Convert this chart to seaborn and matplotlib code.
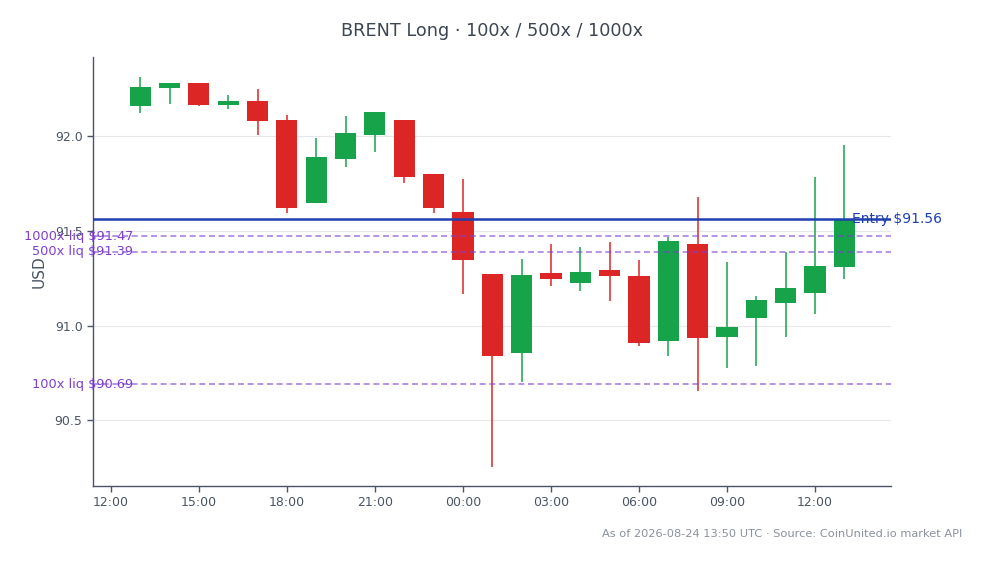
import matplotlib
matplotlib.use("Agg")
import matplotlib.pyplot as plt
import matplotlib.dates as mdates
import numpy as np
import pandas as pd
import seaborn as sns

# ---- data ----
times = pd.date_range("2026-08-23 13:00", "2026-08-24 13:00", freq="h")
opens = [92.160, 92.255, 92.280, 92.165, 92.185, 92.084, 91.648, 91.880, 92.007, 92.084,
         91.799, 91.597, 91.270, 90.856, 91.275, 91.226, 91.293, 91.261, 90.920, 91.428,
         90.941, 91.041, 91.120, 91.173, 91.310]
highs = [92.313, 92.280, 92.280, 92.216, 92.248, 92.111, 91.991, 92.106, 92.127, 92.084,
         91.799, 91.773, 91.270, 91.351, 91.430, 91.413, 91.441, 91.346, 91.465, 91.678,
         91.335, 91.156, 91.388, 91.785, 91.953]
lows = [92.123, 92.169, 92.158, 92.142, 92.005, 91.595, 91.648, 91.838, 91.917, 91.754,
        91.595, 91.168, 90.252, 90.703, 91.208, 91.184, 91.131, 90.893, 90.841, 90.656,
        90.777, 90.788, 90.939, 91.061, 91.247]
closes = [92.259, 92.280, 92.165, 92.185, 92.081, 91.622, 91.889, 92.016, 92.127, 91.785,
          91.622, 91.344, 90.841, 91.265, 91.244, 91.281, 91.263, 90.909, 91.446, 90.936,
          90.992, 91.135, 91.198, 91.314, 91.560]
entry_price = 91.56
liq_levels = [91.47, 91.39, 90.69]
liq_names = ["1000x", "500x", "100x"]
title = "BRENT Long \u00b7 100x / 500x / 1000x"
footer = "As of 2026-08-24 13:50 UTC \u00b7 Source: CoinUnited.io market API"

df = pd.DataFrame({"time": times, "open": opens, "high": highs, "low": lows, "close": closes})
df["up"] = df["close"] >= df["open"]

GREEN = "#16a34a"
RED = "#dc2626"
PURPLE = "#7e3fd0"
BLUE = "#1e40af"
AXC = "#4a5568"

sns.set_theme(style="white")
plt.rcParams["font.family"] = ["DejaVu Sans"]

fig = plt.figure(figsize=(9.86, 5.64), dpi=100)
ax = fig.add_axes([0.0943, 0.1383, 0.8094, 0.7606])

colors = np.where(df["up"], GREEN, RED)
x = mdates.date2num(df["time"])
width = 0.72 / 24
ax.vlines(x, df["low"], df["high"], colors=colors, linewidth=1.1, zorder=2)
body_bottom = np.minimum(df["open"], df["close"])
body_h = np.maximum(np.abs(df["close"] - df["open"]), 0.012)
ax.bar(x, body_h, bottom=body_bottom, width=width, color=colors, linewidth=0, zorder=3)

# entry line
ax.axhline(entry_price, color=BLUE, linewidth=1.8, zorder=4)
ax.text(0.951, entry_price, f"Entry ${entry_price:.2f}", transform=ax.get_yaxis_transform(),
        ha="left", va="center", color=BLUE, fontsize=10, zorder=5)

# liquidation lines
for name, lvl in zip(liq_names, liq_levels):
    ax.axhline(lvl, color=PURPLE, alpha=0.65, linewidth=1.2, linestyle=(0, (3.6, 2.2)), zorder=4)
    ax.text(0.05, lvl, f"{name} liq ${lvl:.2f}", transform=ax.get_yaxis_transform(),
            ha="right", va="center", color=PURPLE, fontsize=9.3, zorder=5, clip_on=False)

xmin = mdates.date2num(pd.Timestamp("2026-08-23 11:23:24"))
xmax = mdates.date2num(pd.Timestamp("2026-08-24 14:35:30"))
ax.set_xlim(xmin, xmax)
ax.set_ylim(90.153, 92.417)

ax.set_yticks([90.5, 91.0, 91.5, 92.0])
ax.yaxis.set_major_formatter(matplotlib.ticker.FormatStrFormatter("%.1f"))
ax.xaxis.set_major_locator(mdates.HourLocator(byhour=[0, 3, 6, 9, 12, 15, 18, 21]))
ax.xaxis.set_major_formatter(mdates.DateFormatter("%H:%M"))

ax.grid(axis="y", color="#e5e7eb", linewidth=0.8)
ax.grid(axis="x", visible=False)
ax.set_axisbelow(True)
for s in ["top", "right"]:
    ax.spines[s].set_visible(False)
for s in ["left", "bottom"]:
    ax.spines[s].set_color(AXC)
    ax.spines[s].set_linewidth(1.0)
ax.tick_params(axis="both", colors=AXC, labelcolor="#4b5563", labelsize=9,
               length=4, width=1, direction="out", left=True, bottom=True)

ax.set_ylabel("USD", color="#4b5563", fontsize=11, labelpad=6)
fig.text(0.499, 0.945, title, ha="center", va="center", fontsize=12.7, color="#3d4654")
fig.text(0.976, 0.053, footer, ha="right", va="center", fontsize=8.2, color="#8a919c")

fig.savefig("out.png", dpi=100, facecolor="white")
